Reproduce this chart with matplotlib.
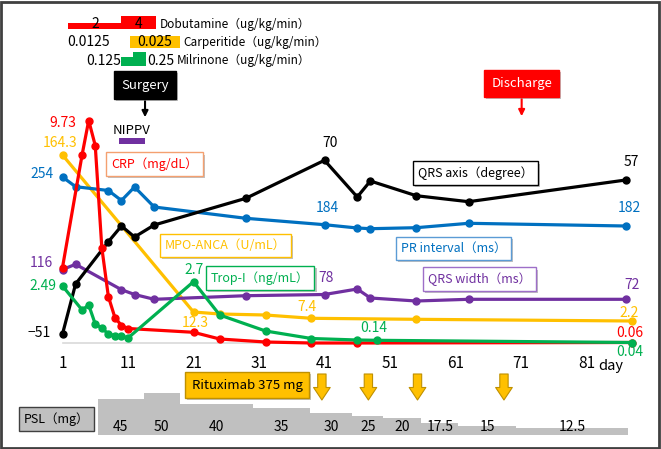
import matplotlib
matplotlib.use("Agg")
import matplotlib.pyplot as plt
import matplotlib.patheffects as pe
from matplotlib.patches import Rectangle

plt.rcParams['font.family'] = ['Noto Sans CJK JP', 'DejaVu Sans']

# =====================================
# Data (x = hospital day, y = height on the shared display scale)
# =====================================
crp_days = [1, 4, 5, 6, 7, 8, 9, 10, 11, 21, 25, 32, 39, 46, 88]
crp_y = [75.5, 188.5, 222.5, 197.5, 95.5, 46.5, 25.5, 17.5, 14.5, 10.7, 4, 1, 0, 0, 0.5]

mpo_days = [1, 21, 25, 32, 39, 55, 88]
mpo_y = [188, 31, 29, 28, 24.7, 23.7, 22]

trop_days = [1, 4, 5, 6, 7, 8, 9, 10, 11, 21, 25, 32, 39, 46, 49, 88]
trop_y = [57, 33, 38, 19, 15, 9, 7.5, 7, 5, 61.3, 28, 12, 4.5, 3, 2.7, 0.5]

ecg_days = [1, 3, 8, 10, 12, 15, 29, 41, 46, 48, 55, 63, 87]
pr_y = [166, 156.3, 152.5, 142.5, 156, 136, 124.7, 118.3, 115, 114.3, 115.3, 119.7, 117]
axis_y = [9, 59, 101.3, 117, 106, 118, 144.7, 182.7, 146, 162, 147.3, 141.3, 163]

qrsw_days = [1, 3, 10, 12, 15, 29, 41, 46, 48, 55, 63, 87]
qrsw_y = [73.5, 78.7, 53.3, 48.5, 43.7, 47.3, 48.5, 54, 45, 42, 43.7, 43.7]

x_ticks = [1, 11, 21, 31, 41, 51, 61, 71, 81]

# drug infusions: period edges (days) and doses
dob_edges = [1.9, 10.0, 15.2]
dob_dose = ["2", "4"]
dob_h = [6.6, 13.6]
carp_edges = [1.9, 11.3, 19.0]
carp_dose = ["0.0125", "0.025"]
carp_h = [0, 12.3]
mil_edges = [10.0, 11.8, 13.7]
mil_dose = ["0.125", "0.25"]
mil_h = [9, 14]

nippv_days = [9.7, 13.6]
surgery_day = 13.6
discharge_day = 71.1
rituximab_days = [40.6, 47.7, 55.2, 68.4]

psl_edges = [6.4, 13.4, 18.9, 30.1, 38.8, 45.2, 50.0, 55.8, 61.4, 70.3, 87.3]
psl_dose = ["45", "50", "40", "35", "30", "25", "20", "17.5", "15", "12.5"]
psl_h = [35.7, 42.3, 31, 27.3, 22.3, 19, 16.7, 12.3, 9, 7.3]

RED = "#FF0000"
GOLD = "#FFC000"
BLUE = "#0070C0"
GREEN = "#00B050"
PURPLE = "#7030A0"
BLACK = "#000000"

# =====================================
# Figure
# =====================================
fig = plt.figure(figsize=(6.61, 4.49), dpi=100)
ax = fig.add_axes([0, 0, 1, 1])
ax.set_xlim(1 - 62.5 / 6.55, 1 + (661 - 62.5) / 6.55)
ax.set_ylim(-106, 343)
ax.axis("off")

fig.patches.append(Rectangle((0.002, 0.003), 0.995, 0.993, transform=fig.transFigure,
                             fill=False, ec="#404040", lw=2))

# baseline and day ticks
ax.plot([1, 88], [0, 0], color="#D9D9D9", lw=1.2, zorder=1)
for d in x_ticks:
    ax.text(d, -20, str(d), ha="center", va="center", fontsize=11)
ax.text(84.7, -23, "day", ha="center", va="center", fontsize=10.5)

# --- series ---
lw, ms = 2.3, 5
ax.plot(mpo_days, mpo_y, "-o", color=GOLD, lw=lw, ms=ms, zorder=3)
ax.plot(ecg_days, pr_y, "-o", color=BLUE, lw=lw, ms=ms, zorder=3)
ax.plot(qrsw_days, qrsw_y, "-o", color=PURPLE, lw=lw, ms=ms, zorder=3)
ax.plot(ecg_days, axis_y, "-o", color=BLACK, lw=lw, ms=ms, zorder=4)
ax.plot(crp_days, crp_y, "-o", color=RED, lw=lw, ms=ms, zorder=5)
ax.plot(trop_days, trop_y, "-o", color=GREEN, lw=lw, ms=ms, zorder=6)

# value labels
vals = [
    (1.1, 220, "9.73", RED), (0.7, 200, "164.3", GOLD), (-2.2, 169, "254", BLUE),
    (-2.2, 80, "116", PURPLE), (-2.0, 57, "2.49", GREEN), (-2.6, 10, "\u221251", BLACK),
    (21.15, 73, "2.7", GREEN), (21.3, 20, "12.3", GOLD), (38.3, 36, "7.4", GOLD),
    (48.5, 15, "0.14", GREEN), (41.8, 200, "70", BLACK), (41.5, 135, "184", BLUE),
    (41.3, 65, "78", PURPLE), (87.9, 181, "57", BLACK), (87.6, 135, "182", BLUE),
    (87.9, 58, "72", PURPLE), (87.5, 30, "2.2", GOLD), (87.6, 10, "0.06", RED),
    (87.6, -8.5, "0.04", GREEN),
]
for x, y, s, c in vals:
    ax.text(x, y, s, ha="center", va="center", fontsize=10, color=c, zorder=7)

# legend boxes
shadow = [pe.SimplePatchShadow(offset=(1.5, -1.5), shadow_rgbFace="#999999", alpha=0.6), pe.Normal()]
boxes = [
    (15.0, 178.7, "CRP\uff08mg/dL\uff09", RED, "#F4A070"),
    (25.9, 97.3, "MPO-ANCA\uff08U/mL\uff09", GOLD, GOLD),
    (31.2, 65.3, "Trop-I\uff08ng/mL\uff09", GREEN, GREEN),
    (64.05, 169.7, "QRS axis\uff08degree\uff09", BLACK, BLACK),
    (60.7, 95, "PR interval\uff08ms\uff09", BLUE, "#5B9BD5"),
    (64.7, 63.7, "QRS width\uff08ms\uff09", PURPLE, "#9E6FC8"),
]
for x, y, s, c, ec in boxes:
    t = ax.text(x, y, s, ha="center", va="center", fontsize=9, color=c, zorder=8,
                bbox=dict(boxstyle="square,pad=0.4", fc="white", ec=ec, lw=1))
    t.get_bbox_patch().set_path_effects(shadow)

# --- drug bars ---
def drug(edges, heights, colors, base):
    for i in range(len(heights)):
        if heights[i] > 0:
            ax.bar(edges[i], heights[i], width=edges[i + 1] - edges[i], bottom=base,
                   align="edge", color=colors[i], lw=0, zorder=2)

drug(dob_edges, dob_h, [RED, RED], 313.7)
for i, s in enumerate(dob_dose):
    ax.text((dob_edges[i] + dob_edges[i + 1]) / 2, 318.7, s, ha="center", va="center", fontsize=10)
ax.text(15.8, 318.7, "Dobutamine\uff08ug/kg/min\uff09", ha="left", va="center", fontsize=8.5)

drug(carp_edges, carp_h, [GOLD, GOLD], 294.7)
ax.text(5.05, 300.7, carp_dose[0], ha="center", va="center", fontsize=10)
ax.text((carp_edges[1] + carp_edges[2]) / 2, 300.7, carp_dose[1], ha="center", va="center", fontsize=10)
ax.text(19.4, 300.7, "Carperitide\uff08ug/kg/min\uff09", ha="left", va="center", fontsize=8.5)

drug(mil_edges, mil_h, [GREEN, GREEN], 277.3)
ax.text(9.9, 282.3, mil_dose[0], ha="right", va="center", fontsize=10)
ax.text(14.0, 282.3, mil_dose[1], ha="left", va="center", fontsize=10)
ax.text(18.4, 282.3, "Milrinone\uff08ug/kg/min\uff09", ha="left", va="center", fontsize=8.5)

# surgery / NIPPV / discharge
t = ax.text(surgery_day, 258, "Surgery", ha="center", va="center", fontsize=9.5, color="white",
            bbox=dict(boxstyle="square,pad=0.55", fc="black", ec="black"), zorder=8)
t.get_bbox_patch().set_path_effects(shadow)
ax.annotate("", xy=(surgery_day, 223), xytext=(surgery_day, 245),
            arrowprops=dict(arrowstyle="-|>", color="black", lw=1.5, mutation_scale=9))
ax.text(11.56, 212.3, "NIPPV", ha="center", va="center", fontsize=9.5)
ax.bar(nippv_days[0], 5.7, width=nippv_days[1] - nippv_days[0], bottom=199, align="edge",
       color=PURPLE, lw=0)

t = ax.text(discharge_day, 259.7, "Discharge", ha="center", va="center", fontsize=9.5, color="white",
            bbox=dict(boxstyle="square,pad=0.55", fc=RED, ec=RED), zorder=8)
t.get_bbox_patch().set_path_effects(shadow)
ax.annotate("", xy=(discharge_day, 224), xytext=(discharge_day, 247),
            arrowprops=dict(arrowstyle="-|>", color=RED, lw=1.5, mutation_scale=9))

# rituximab
t = ax.text(29.2, -42.3, "Rituximab 375 mg", ha="center", va="center", fontsize=9.5, zorder=8,
            bbox=dict(boxstyle="square,pad=0.5", fc=GOLD, ec="#BF9000", lw=1))
t.get_bbox_patch().set_path_effects(shadow)
for d in rituximab_days:
    ax.annotate("", xy=(d, -57), xytext=(d, -31),
                arrowprops=dict(arrowstyle="simple,head_length=0.9,head_width=1.2,tail_width=0.6",
                                fc=GOLD, ec="#BF9000", lw=0.8, mutation_scale=10,
                                shrinkA=0, shrinkB=0))

# PSL steps
for i in range(len(psl_h)):
    ax.bar(psl_edges[i], psl_h[i], width=psl_edges[i + 1] - psl_edges[i], bottom=-92,
           align="edge", color="#C0C0C0", lw=0, zorder=1)
    ax.text((psl_edges[i] + psl_edges[i + 1]) / 2, -84, psl_dose[i], ha="center",
            va="center", fontsize=10, zorder=2)
ax.text(0.1, -76, "PSL\uff08mg\uff09", ha="center", va="center", fontsize=9, zorder=8,
        bbox=dict(boxstyle="square,pad=0.4", fc="#C0C0C0", ec="#404040", lw=1))

fig.savefig("out.png", dpi=100)
